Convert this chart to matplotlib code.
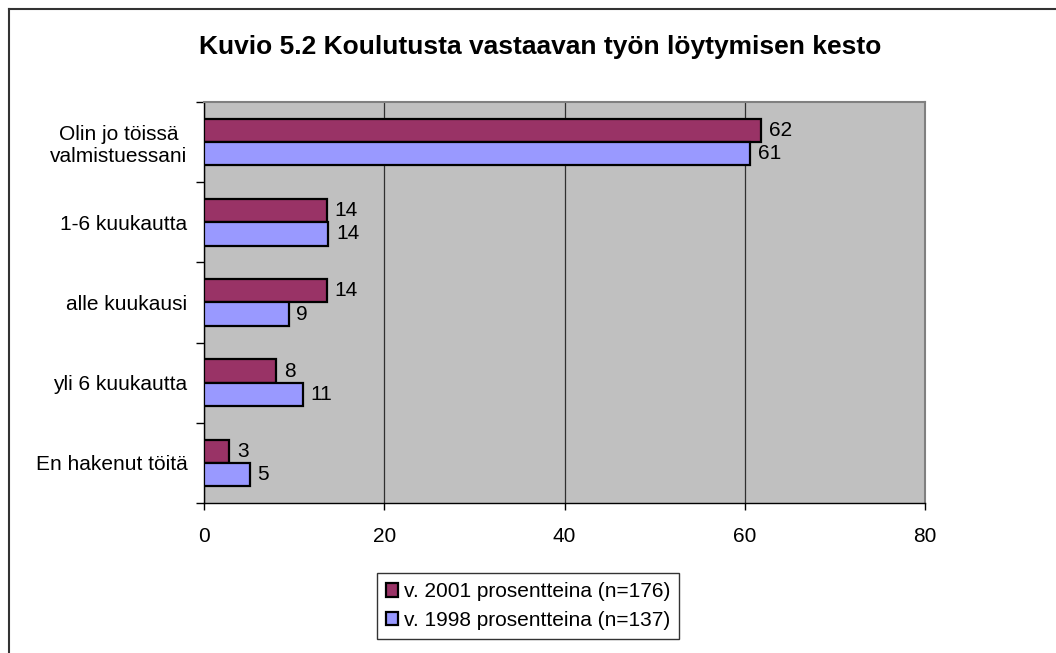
import matplotlib
matplotlib.use("Agg")
import matplotlib.pyplot as plt
from matplotlib.lines import Line2D
import numpy as np

plt.rcParams['font.family'] = ['Liberation Sans', 'DejaVu Sans']

categories = ["Olin jo töissä\nvalmistuessani", "1-6 kuukautta", "alle kuukausi",
              "yli 6 kuukautta", "En hakenut töitä"]
v2001 = [61.8, 13.6, 13.6, 8.0, 2.8]
v1998 = [60.6, 13.8, 9.4, 11.0, 5.1]
series_names = ["v. 2001 prosentteina (n=176)", "v. 1998 prosentteina (n=137)"]
xticks = [0, 20, 40, 60, 80]

W, H = 1056, 653
FS = 15
fig = plt.figure(figsize=(W / 100, H / 100), dpi=100)
ax = fig.add_axes([204 / W, 1 - 503 / H, (925 - 204) / W, (503 - 102) / H])
ax.set_facecolor('#C0C0C0')

y = np.arange(len(categories))
h = 0.29
b1 = ax.barh(y - h / 2, v2001, height=h, color='#993366', edgecolor='black',
             linewidth=1.6, label=series_names[0], zorder=3)
b2 = ax.barh(y + h / 2, v1998, height=h, color='#9999FF', edgecolor='black',
             linewidth=1.6, label=series_names[1], zorder=3)

for bars, vals in ((b1, v2001), (b2, v1998)):
    for rect, v in zip(bars, vals):
        ax.annotate(str(round(v)), (v, rect.get_y() + rect.get_height() / 2),
                    xytext=(5.5, 0), textcoords='offset points', ha='left',
                    va='center', fontsize=FS, zorder=4)

ax.set_xlim(0, 80)
ax.set_ylim(len(categories) - 0.5, -0.5)
ax.set_xticks(xticks)
ax.tick_params(axis='x', direction='out', length=5, width=1, pad=12, labelsize=FS)
ax.xaxis.grid(True, color='#303030', linewidth=0.9, zorder=1)

ax.set_yticks(y)
ax.set_yticklabels(categories, multialignment='center')
ax.set_yticks(np.arange(-0.5, len(categories)), minor=True)
ax.tick_params(axis='y', which='major', length=0, pad=12, labelsize=FS)
ax.tick_params(axis='y', which='minor', direction='out', length=6, width=1)

for s in ('top', 'right'):
    ax.spines[s].set_color('#808080')
    ax.spines[s].set_linewidth(1.5)
for s in ('left', 'bottom'):
    ax.spines[s].set_color('black')
    ax.spines[s].set_linewidth(1)

fig.suptitle("Kuvio 5.2 Koulutusta vastaavan työn löytymisen kesto",
             x=540 / W, y=1 - 47 / H, va='center', fontsize=19, fontweight='bold')

leg = fig.legend(handles=[b1, b2], loc='center', bbox_to_anchor=(528 / W, 1 - 606 / H),
                 fontsize=FS, frameon=True, fancybox=False, edgecolor='black',
                 handlelength=0.6, handleheight=0.6, handletextpad=0.25,
                 borderpad=0.45, labelspacing=0.45, borderaxespad=0)
leg.get_frame().set_linewidth(1)

# outer chart frame (only left and top edges visible)
fig.add_artist(Line2D([9 / W, 9 / W], [0, 1 - 9 / H], color='#333333', linewidth=1.5))
fig.add_artist(Line2D([9 / W, 1], [1 - 9 / H, 1 - 9 / H], color='#333333', linewidth=1.5))

fig.savefig("out.png", dpi=100, facecolor='white')
